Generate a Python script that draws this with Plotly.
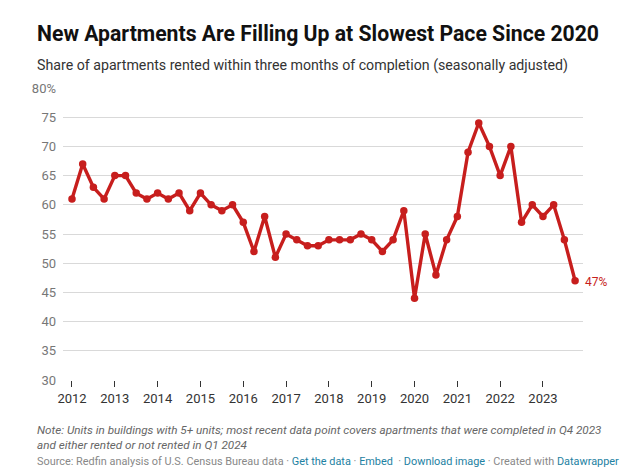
import plotly.graph_objects as go

years = list(range(2012, 2024))
quarters = [1, 2, 3, 4]
values = [
    61, 67, 63, 61,
    65, 65, 62, 61,
    62, 61, 62, 59,
    62, 60, 59, 60,
    57, 52, 58, 51,
    55, 54, 53, 53,
    54, 54, 54, 55,
    54, 52, 54, 59,
    44, 55, 48, 54,
    58, 69, 74, 70,
    65, 70, 57, 60,
    58, 60, 54, 47,
]
x = [y + (q - 1) / 4 for y in years for q in quarters]
y_ticks = [30, 35, 40, 45, 50, 55, 60, 65, 70, 75, 80]
y_tick_text = [str(v) for v in y_ticks[:-1]] + ["80%"]

RED = "#c71e1d"
L, R, T, B = 63, 57, 88, 93
PW = 640 - L - R
PH = 473 - T - B

def px(xp):
    return (xp - L) / PW

def py(yp):
    return (473 - B - yp) / PH

fig = go.Figure()
fig.add_trace(go.Scatter(
    x=x, y=values, mode="lines+markers",
    line=dict(color=RED, width=3.4),
    marker=dict(color=RED, size=7.5),
    hoverinfo="skip",
))

fig.update_layout(
    width=640, height=473,
    margin=dict(l=L, r=R, t=T, b=B),
    paper_bgcolor="white", plot_bgcolor="white",
    showlegend=False,
    font=dict(family="Roboto", color="#333"),
    xaxis=dict(
        range=[2011.79, 2023.935], tickvals=years, ticktext=[str(v) for v in years],
        showgrid=False, zeroline=False, showline=False,
        ticks="outside", ticklen=6, tickcolor="#333", tickwidth=1,
        tickfont=dict(size=13, color="#333"),
    ),
    yaxis=dict(
        range=[30, 80], tickvals=y_ticks, ticktext=y_tick_text,
        showgrid=True, gridcolor="#d9d9d9", gridwidth=1,
        zeroline=False, showline=False, ticks="", ticklabelstandoff=6,
        tickfont=dict(size=13, color="#777"),
    ),
)

ann = []
ann.append(dict(text="<b>New Apartments Are Filling Up at Slowest Pace Since 2020</b>",
                x=px(35), y=py(34), xanchor="left", yanchor="middle",
                font=dict(size=21.2, color="#111", family="Roboto")))
ann.append(dict(text="Share of apartments rented within three months of completion (seasonally adjusted)",
                x=px(35), y=py(65), xanchor="left", yanchor="middle",
                font=dict(size=14.2, color="#333", family="Roboto")))
ann.append(dict(text="<i>Note: Units in buildings with 5+ units; most recent data point covers apartments that were completed in Q4 2023<br>and either rented or not rented in Q1 2024</i>",
                x=px(35), y=py(421), xanchor="left", yanchor="top", align="left",
                font=dict(size=11.7, color="#666", family="Roboto")))
link = "color:#1d81a2"
ann.append(dict(text=("Source: Redfin analysis of U.S. Census Bureau data · "
                      f"<span style='{link}'>Get the data</span> · "
                      f"<span style='{link}'>Embed</span>  · "
                      f"<span style='{link}'>Download image</span> · Created with "
                      f"<span style='{link}'>Datawrapper</span>"),
                x=px(35), y=py(461), xanchor="left", yanchor="middle",
                font=dict(size=10.9, color="#888", family="Roboto")))
ann.append(dict(text=f"{values[-1]}%", x=x[-1], y=values[-1], xref="x", yref="y",
                xanchor="left", yanchor="middle", xshift=8, yshift=-1,
                font=dict(size=12, color=RED, family="Roboto")))
for a in ann:
    a.setdefault("xref", "paper")
    a.setdefault("yref", "paper")
    a["showarrow"] = False
fig.update_layout(annotations=ann)

fig.write_html("out.html", config={"displayModeBar": False},
               post_script="document.body.style.margin='0';document.body.style.overflow='hidden';")
